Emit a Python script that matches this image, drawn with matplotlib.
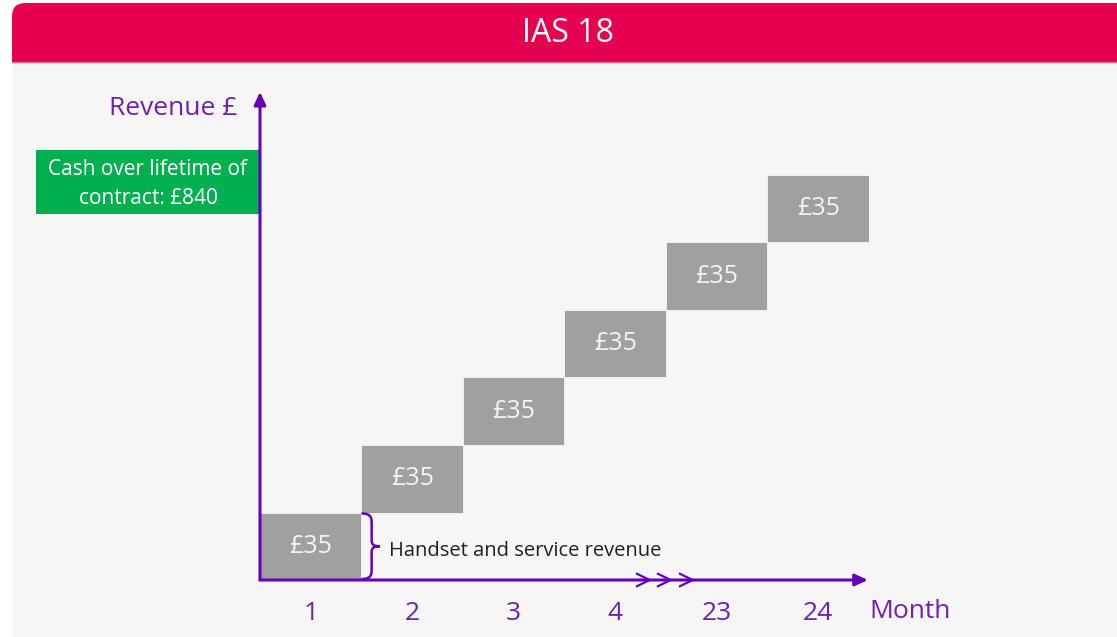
import matplotlib
matplotlib.use("Agg")
import matplotlib.pyplot as plt
from matplotlib.patches import FancyBboxPatch, Rectangle, PathPatch
from matplotlib.path import Path

# ---- data ----
months = ["1", "2", "3", "4", "23", "24"]
monthly_revenue = [35, 35, 35, 35, 35, 35]
bar_labels = ["£35"] * 6
title = "IAS 18"
y_label = "Revenue £"
x_label = "Month"
note = "Handset and service revenue"
cash_box = "Cash over lifetime of\ncontract: £840"

W, H = 1117, 637
plt.rcParams['font.family'] = ['Open Sans', 'DejaVu Sans']
fig = plt.figure(figsize=(W / 100, H / 100), dpi=100)
fig.patch.set_facecolor('white')

def fx(x):
    return x / W

def fy(y):
    return 1 - y / H

PURPLE = '#6600B8'
PURPLE_T = '#7020B0'
CRIMSON = '#E4004F'
GREEN = '#00AF50'
GREY = '#A0A0A0'
BG = '#F6F6F6'

# title bar (rounded top-left), lower part covered by panel
fig.patches.append(FancyBboxPatch((fx(12), fy(100)), fx(1140) - fx(12), fy(3) - fy(100),
                                  boxstyle="round,pad=0,rounding_size=0.012",
                                  transform=fig.transFigure, facecolor=CRIMSON,
                                  edgecolor='none', zorder=0, mutation_aspect=W / H))
# panel background
fig.patches.append(Rectangle((fx(12), fy(637)), fx(1117) - fx(12), fy(62) - fy(637),
                             transform=fig.transFigure, facecolor=BG, edgecolor='none', zorder=1))
fig.lines.append(plt.Line2D([fx(12), fx(1117)], [fy(62), fy(62)], transform=fig.transFigure,
                            color='#F06090', lw=1, zorder=2))
fig.text(fx(568), fy(34), title, color='white', fontsize=23, ha='center', va='center', zorder=3)

# green box
fig.patches.append(Rectangle((fx(36), fy(214)), fx(261) - fx(36), fy(150) - fy(214),
                             transform=fig.transFigure, facecolor=GREEN, edgecolor='none', zorder=2))
fig.text(fx(148), fy(184), cash_box, color='white', fontsize=15, ha='center', va='center',
         linespacing=1.55, zorder=3)

# main axes
ax = fig.add_axes([fx(260), fy(580), fx(869) - fx(260), fy(175) - fy(580)])
ax.set_zorder(5)
ax.set_facecolor('none')
n = len(months)
ax.set_xlim(0, n)
total = sum(monthly_revenue)
ax.set_ylim(0, total)
for s in ax.spines.values():
    s.set_visible(False)

bottoms = [sum(monthly_revenue[:i]) for i in range(n)]
xs = [i + 0.5 for i in range(n)]
ax.bar(xs, monthly_revenue, width=1.0, bottom=bottoms, color=GREY, edgecolor=BG,
       linewidth=0.6, zorder=2)
for x, b, v, lab in zip(xs, bottoms, monthly_revenue, bar_labels):
    ax.text(x, b + v / 2, lab, color='#F4F4F4', fontsize=18, ha='center', va='center', zorder=3)

ax.set_xticks(xs)
ax.set_xticklabels(months, color=PURPLE_T, fontsize=19)
ax.tick_params(axis='x', length=0, pad=15)
ax.set_yticks([])

# axes arrows
ax.annotate('', xy=(0, total * 1.205), xytext=(0, 0),
            arrowprops=dict(arrowstyle='-|>,head_length=0.75,head_width=0.35', color=PURPLE, lw=2.2,
                            shrinkA=0, shrinkB=0), annotation_clip=False, zorder=4)
ax.annotate('', xy=(n * 0.998, 0), xytext=(0, 0),
            arrowprops=dict(arrowstyle='-|>,head_length=0.75,head_width=0.35', color=PURPLE, lw=2.2,
                            shrinkA=0, shrinkB=0), annotation_clip=False, zorder=4)
# chevrons on x-axis (break in months 4 -> 23)
for cx in [3.714, 3.921, 4.138]:
    ax.plot([cx, cx + 0.125, cx], [3.2, 0, -3.2], color=PURPLE, lw=1.6, clip_on=False,
            solid_joinstyle='miter', zorder=4)

# axis labels
ax.text(-0.22, total * 1.165, y_label, color=PURPLE_T, fontsize=19, ha='right', va='center')
ax.text(n * 1.0, -16.2, x_label, color=PURPLE_T, fontsize=19, ha='left', va='center')

# brace next to the first bar
x0 = 1.0
v0 = monthly_revenue[0]
dx = 0.1
tip = 0.18
mid = v0 / 2
verts = [(x0, v0 - 0.5),
         (x0 + dx, v0 - 0.5), (x0 + dx, v0 - 3), (x0 + dx, v0 - 6),
         (x0 + dx, mid + 3),
         (x0 + dx, mid + 0.5), (x0 + tip - 0.05, mid), (x0 + tip, mid),
         (x0 + tip - 0.05, mid), (x0 + dx, mid - 0.5), (x0 + dx, mid - 3),
         (x0 + dx, 6),
         (x0 + dx, 3), (x0 + dx, 0.5), (x0, 0.5)]
codes = [Path.MOVETO,
         Path.CURVE4, Path.CURVE4, Path.CURVE4,
         Path.LINETO,
         Path.CURVE4, Path.CURVE4, Path.CURVE4,
         Path.CURVE4, Path.CURVE4, Path.CURVE4,
         Path.LINETO,
         Path.CURVE4, Path.CURVE4, Path.CURVE4]
ax.add_patch(PathPatch(Path(verts, codes), facecolor='none', edgecolor=PURPLE, lw=1.8,
                       clip_on=False, zorder=4))
ax.text(x0 + 0.27, mid - 2.3, note, color='#202020', fontsize=14.5, ha='left', va='center')

fig.savefig('out.png', dpi=100, facecolor=fig.get_facecolor())
